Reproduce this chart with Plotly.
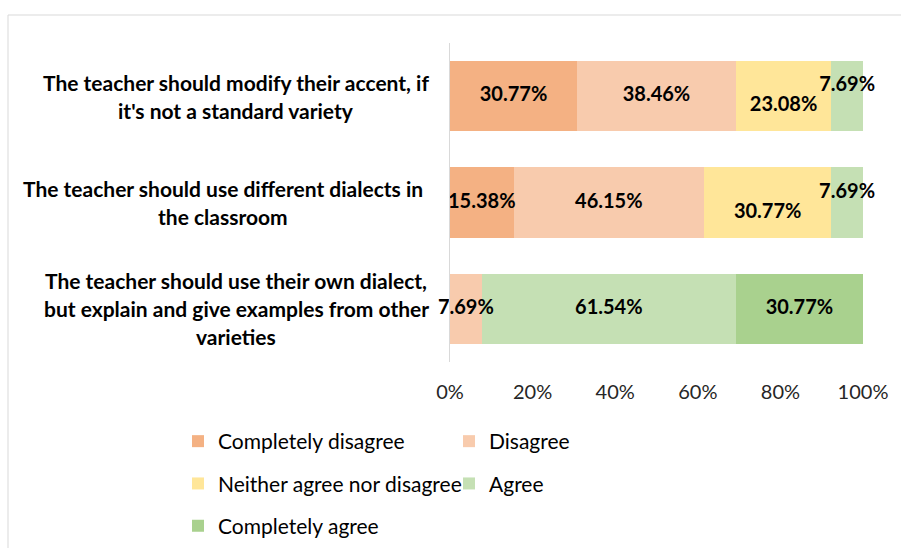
import plotly.graph_objects as go

# ---------------- data ----------------
categories = [
    "The teacher should modify their accent, if<br>it's not a standard variety",
    "The teacher should use different dialects in<br>the classroom",
    "The teacher should use their own dialect,<br>but explain and give examples from other<br>varieties",
]
series_names = [
    "Completely disagree",
    "Disagree",
    "Neither agree nor disagree",
    "Agree",
    "Completely agree",
]
completely_disagree = [30.77, 15.38, 0]
disagree = [38.46, 46.15, 7.69]
neither = [23.08, 30.77, 0]
agree = [7.69, 7.69, 61.54]
completely_agree = [0, 0, 30.77]
x_tick_values = [0, 20, 40, 60, 80, 100]
x_tick_labels = ["0%", "20%", "40%", "60%", "80%", "100%"]

series_values = [completely_disagree, disagree, neither, agree, completely_agree]

# ---------------- style ----------------
colors = ["#F4B183", "#F8CBAD", "#FFE699", "#C5E0B4", "#A9D18E"]
legend_of_series = ["legend", "legend2", "legend", "legend2", "legend"]
FONT = "Lato"
# label vertical placement tweaks (series index, category index) -> textposition
label_pos = {(3, 0): "top center", (3, 1): "top center",
             (2, 0): "bottom center", (2, 1): "bottom center"}
# horizontal centre (px) of each category label block
label_center_px = [236, 223, 236]
LINE_H = 28

W, H = 901, 548
ML, MR, MT, MB = 450, 38, 43, 186
PW, PH = W - ML - MR, H - MT - MB

fig = go.Figure()

for name, vals, col, lg in zip(series_names, series_values, colors, legend_of_series):
    fig.add_trace(go.Bar(
        name=name, x=vals, y=categories, orientation="h",
        marker=dict(color=col, line=dict(width=0)),
        legend=lg, legendgroup=name, hoverinfo="x+name",
    ))

# data labels
lx, ly, lt, lp = [], [], [], []
for ci, cat in enumerate(categories):
    cum = 0
    for si, vals in enumerate(series_values):
        v = vals[ci]
        if v > 0:
            lx.append(cum + v / 2)
            ly.append(cat)
            lt.append(f"{v:.2f}%")
            lp.append(label_pos.get((si, ci), "middle center"))
        cum += v
fig.add_trace(go.Scatter(
    x=lx, y=ly, text=lt, mode="text", textposition=lp,
    textfont=dict(family=FONT, size=20, color="black", weight="bold"),
    showlegend=False, hoverinfo="skip", cliponaxis=False,
))

# category labels (centered multi-line)
annotations = []
for ci, cat in enumerate(categories):
    lines = cat.split("<br>")
    n = len(lines)
    for li, line in enumerate(lines):
        annotations.append(dict(
            x=(label_center_px[ci] - ML) / PW, xref="paper", xanchor="center",
            y=cat, yref="y", yanchor="middle",
            yshift=-(li - (n - 1) / 2) * LINE_H,
            text=f"<b>{line}</b>", showarrow=False,
            font=dict(family=FONT, size=21, color="black"),
        ))

legend_common = dict(
    xref="container", yref="container", xanchor="left", yanchor="top",
    orientation="v", traceorder="grouped", tracegroupgap=12,
    font=dict(family=FONT, size=21, color="black"),
    bgcolor="rgba(0,0,0,0)", borderwidth=0,
)

fig.update_layout(
    width=W, height=H,
    margin=dict(l=ML, r=MR, t=MT, b=MB, autoexpand=False),
    paper_bgcolor="white", plot_bgcolor="white",
    barmode="stack", bargap=0.34,
    font=dict(family=FONT, color="black"),
    xaxis=dict(range=[0, 100], tickvals=x_tick_values, ticktext=x_tick_labels,
               showgrid=False, zeroline=False, showline=False, ticks="",
               ticklabelstandoff=16, tickfont=dict(family=FONT, size=20, color="#262626"),
               fixedrange=True),
    yaxis=dict(autorange="reversed", showticklabels=False, showgrid=False,
               zeroline=False, showline=True, linecolor="#D9D9D9", linewidth=1,
               ticks="", fixedrange=True),
    legend=dict(legend_common, x=178 / W, y=1 - 421 / H),
    legend2=dict(legend_common, x=449 / W, y=1 - 421 / H),
    annotations=annotations,
    shapes=[dict(type="rect", xref="paper", yref="paper",
                 x0=(8 - ML) / PW, x1=(915 - ML) / PW,
                 y0=(H - MB - 560) / PH, y1=(H - MB - 15) / PH,
                 line=dict(color="#D9D9D9", width=1), fillcolor="rgba(0,0,0,0)",
                 layer="below")],
    showlegend=True,
)

fig.write_html("out.html", config={"displayModeBar": False},
               post_script="document.body.style.margin='0';document.body.style.overflow='hidden';")
